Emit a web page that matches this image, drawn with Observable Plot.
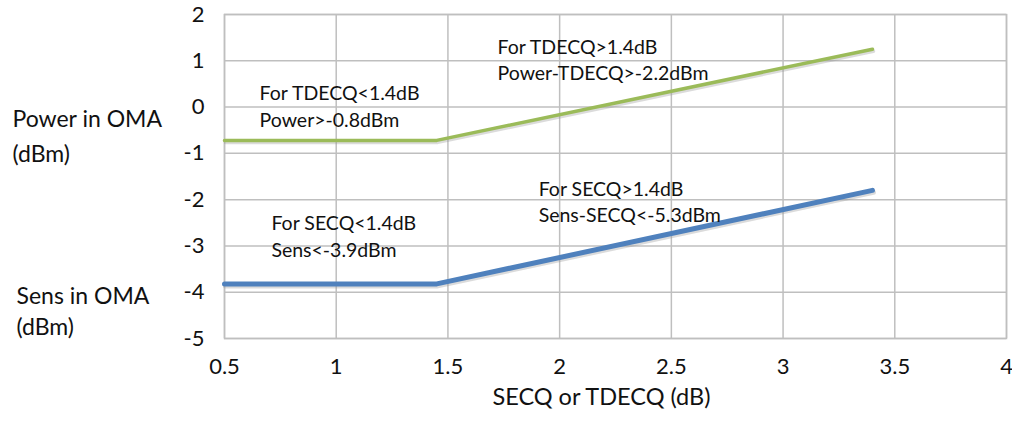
<!DOCTYPE html>
<html>
<head>
<meta charset="utf-8">
<script src="https://cdn.jsdelivr.net/npm/d3@7"></script>
<script src="https://cdn.jsdelivr.net/npm/@observablehq/plot@0.6"></script>
<style>
  html, body { margin: 0; padding: 0; background: #fff; }
  #chart svg { display: block; }
</style>
</head>
<body>
<div id="chart"></div>
<script>
// Data
const secq = [0.5, 1.45, 3.4];
const powerOMA = [-0.72, -0.72, 1.25];
const sensOMA = [-3.82, -3.82, -1.8];
const xTicks = [0.5, 1, 1.5, 2, 2.5, 3, 3.5, 4];
const yTicks = [2, 1, 0, -1, -2, -3, -4, -5];
const annX = [0.657, 1.722, 1.906, 0.71];
const annY = [0.045, 1.05, -2.017, -2.762];
const annText = [
  "For TDECQ<1.4dB\nPower>-0.8dBm",
  "For TDECQ>1.4dB\nPower-TDECQ>-2.2dBm",
  "For SECQ>1.4dB\nSens-SECQ<-5.3dBm",
  "For SECQ<1.4dB\nSens<-3.9dBm"
];
const powerTitle = ["Power in OMA\n(dBm)"];
const sensTitle = ["Sens in OMA\n(dBm)"];
const powerTitleY = -0.56;
const sensTitleY = -4.38;
const xTitle = ["SECQ or TDECQ (dB)"];

const green = secq.map((x, i) => ({x, y: powerOMA[i]}));
const blue = secq.map((x, i) => ({x, y: sensOMA[i]}));
const ann = annText.map((t, i) => ({x: annX[i], y: annY[i], t}));

const font = "Lato, 'Open Sans', sans-serif";

const chart = Plot.plot({
  width: 1012,
  height: 421,
  marginLeft: 224,
  marginRight: 6,
  marginTop: 14,
  marginBottom: 83,
  style: {fontFamily: font, fontSize: "21px", color: "#111", background: "#fff", overflow: "visible"},
  x: {domain: [0.5, 4], axis: null},
  y: {domain: [-5, 2], axis: null},
  marks: [
    Plot.gridX(xTicks, {stroke: "#bfbfbf", strokeOpacity: 1, strokeWidth: 1.5}),
    Plot.gridY(yTicks, {stroke: "#bfbfbf", strokeOpacity: 1, strokeWidth: 1.5}),
    Plot.frame({stroke: "#bfbfbf", strokeWidth: 1.5}),
    // tick labels
    Plot.text(xTicks, {x: d => d, frameAnchor: "bottom", dy: 35, fontSize: 22, text: d => String(d), fill: "#111"}),
    Plot.text(yTicks, {y: d => d, frameAnchor: "left", dx: -20, textAnchor: "end", fontSize: 22, text: d => String(d), fill: "#111"}),
    Plot.text(xTitle, {frameAnchor: "bottom", dx: -14, dy: 66, fontSize: 23.5, text: d => d, fill: "#111"}),
    Plot.text(powerTitle, {frameAnchor: "left", y: () => powerTitleY, text: d => d, textAnchor: "start", dx: -212, fontSize: 23, lineHeight: 1.52, fill: "#111"}),
    Plot.text(sensTitle, {frameAnchor: "left", y: () => sensTitleY, text: d => d, textAnchor: "start", dx: -208, fontSize: 23, lineHeight: 1.35, fill: "#111"}),
    // subtle shadows
    Plot.line(green, {x: "x", y: "y", stroke: "#999", strokeOpacity: 0.35, strokeWidth: 3.5, dy: 2, dx: 1}),
    Plot.line(blue, {x: "x", y: "y", stroke: "#999", strokeOpacity: 0.35, strokeWidth: 5, dy: 2, dx: 1}),
    Plot.line(green, {x: "x", y: "y", stroke: "#9bbb59", strokeWidth: 3.5}),
    Plot.line(blue, {x: "x", y: "y", stroke: "#4f81bd", strokeWidth: 5}),
    Plot.text(ann, {x: "x", y: "y", text: "t", textAnchor: "start", fontSize: 19.5, lineHeight: 1.36, fill: "#111"})
  ]
});
document.getElementById("chart").appendChild(chart);
</script>
</body>
</html>
